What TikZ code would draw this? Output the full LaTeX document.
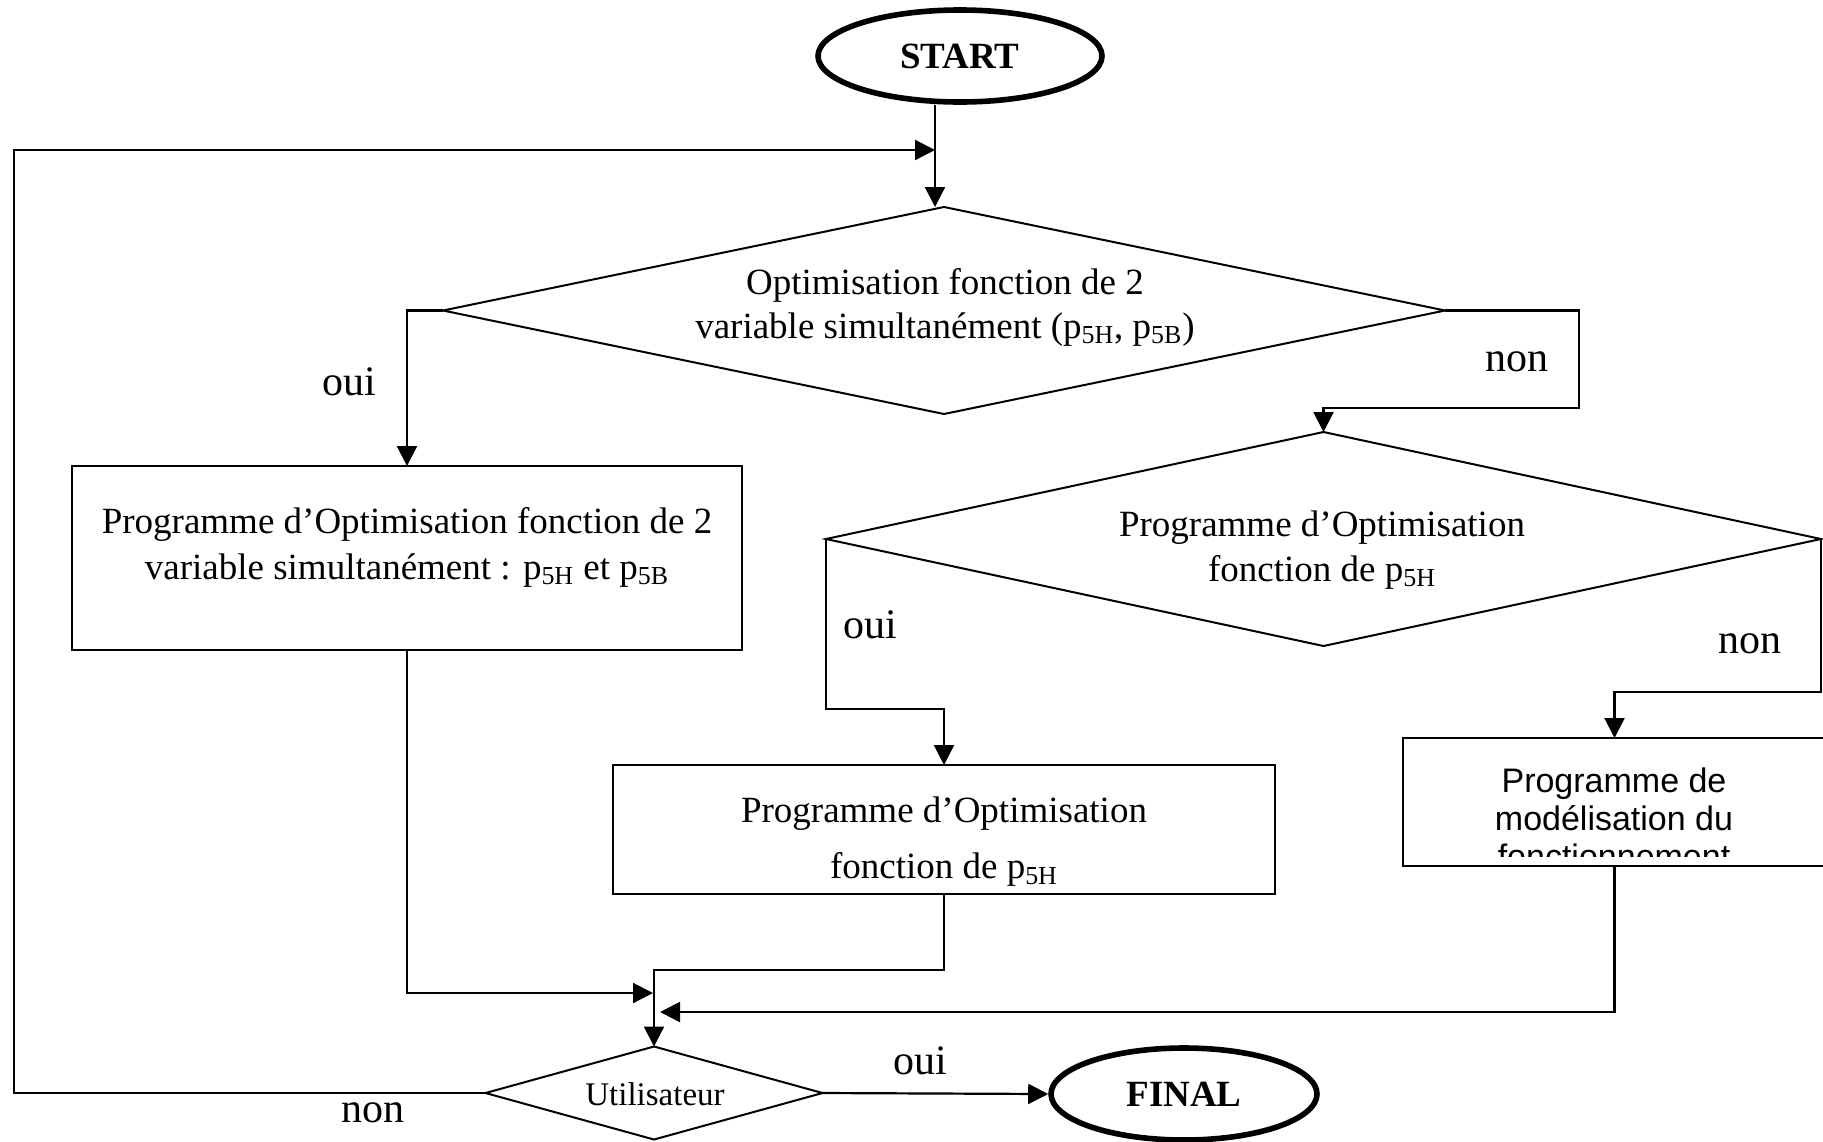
\documentclass[tikz,border=0pt]{standalone}
\usepackage{fontspec}
\setmainfont{Liberation Serif}
\newfontfamily\sansf{Liberation Sans}
\usetikzlibrary{shapes.geometric,arrows.meta}
\begin{document}
\begin{tikzpicture}[x=0.5pt,y=-0.5pt,
  term/.style={ellipse, draw, line width=2.8pt, inner sep=0pt, font=\fontsize{18.5}{22}\selectfont\bfseries},
  dec/.style={diamond, draw, line width=1pt, inner sep=0pt, outer sep=0pt},
  proc/.style={rectangle, draw, line width=1.1pt, inner sep=0pt, outer sep=0pt},
  txt/.style={align=center, inner sep=0pt, font=\fontsize{18.5}{23}\selectfont},
  lbl/.style={inner sep=0pt, font=\fontsize{21}{24}\selectfont},
  arr/.style={line width=1.1pt, -{Triangle[length=10pt,width=10pt]}},
  conn/.style={line width=1.1pt}]
\useasboundingbox (0,0) rectangle (1823,1141);
\clip (0,0) rectangle (1823,1141);

% terminals
\node[term, minimum width=142pt, minimum height=46pt] (start) at (960,56) {START};
\node[term, minimum width=133pt, minimum height=46pt] (final) at (1184,1094) {FINAL};

% decisions
\node[dec, minimum width=501pt, minimum height=103.5pt] (d1) at (944,310.5) {};
\node[txt, font=\fontsize{18.5}{22}\selectfont] (t1) at (945,307) {Optimisation fonction de 2\\variable simultanément (p\textsubscript{5H}, p\textsubscript{5B})};
\node[dec, minimum width=497.5pt, minimum height=107pt] (d2) at (1323.5,539) {};
\node[txt, font=\fontsize{18.5}{22.5}\selectfont] (t3) at (1322,550) {Programme d’Optimisation\\fonction de p\textsubscript{5H}};
\node[dec, minimum width=168.5pt, minimum height=46.5pt] (du) at (654,1093) {};
\node[txt, font=\fontsize{16.5}{20}\selectfont] (tu) at (655,1094) {Utilisateur};

% process boxes
\node[proc, minimum width=335pt, minimum height=92pt] (lbox) at (407,558) {};
\node[txt] (t2) at (407,547) {Programme d’Optimisation fonction de 2\\variable simultanément : p\textsubscript{5H} et p\textsubscript{5B}};
\node[proc, minimum width=331pt, minimum height=64.5pt] (mbox) at (944,829.5) {};
\node[txt, font=\fontsize{18.5}{28}\selectfont] (t4) at (944,842) {Programme d’Optimisation\\fonction de p\textsubscript{5H}};
\node[proc, minimum width=211.5pt, minimum height=64pt] (rbox) at (1614.5,802) {};
\begin{scope}
  \clip (1403,738) rectangle (1826,856);
  \node[txt, font=\sansf\fontsize{17}{19}\selectfont] (t5) at (1614,818) {Programme de\\modélisation du\\fonctionnement};
\end{scope}

% coordinates for routing
\coordinate (jtop) at (935,150);
\coordinate (lpt) at (14,150);
\coordinate (c1) at (1579,408);
\coordinate (c2) at (944,709);
\coordinate (c3) at (1614.5,692);
\coordinate (c4) at (654,970);
\coordinate (m1) at (653,993);
\coordinate (m2) at (660,1012);

% connectors
\draw[arr] ([xshift=-12.5pt]start.south) -- (d1.north -| jtop);
\draw[arr] (du.west) -| (lpt) -- (jtop);
\draw[arr] (d1.west) -| (lbox.north);
\draw[arr] (d1.east) -| (c1) -| (d2.north);
\draw[arr] (d2.west) |- (c2) -- (mbox.north);
\draw[arr] (d2.east) |- (c3) -- (rbox.north);
\draw[arr] (lbox.south) |- (m1);
\draw[arr] (mbox.south) |- (c4) -- (du.north);
\draw[arr] (rbox.south) |- (m2);
\draw[arr] (du.east) -- (final.west);

% labels
\node[lbl] (l1) at (349,382) {oui};
\node[lbl] (l2) at (1517,362) {non};
\node[lbl] (l3) at (870,625) {oui};
\node[lbl] (l4) at (1750,644) {non};
\node[lbl] (l5) at (920,1061) {oui};
\node[lbl] (l6) at (373,1113) {non};
\end{tikzpicture}
\end{document}
